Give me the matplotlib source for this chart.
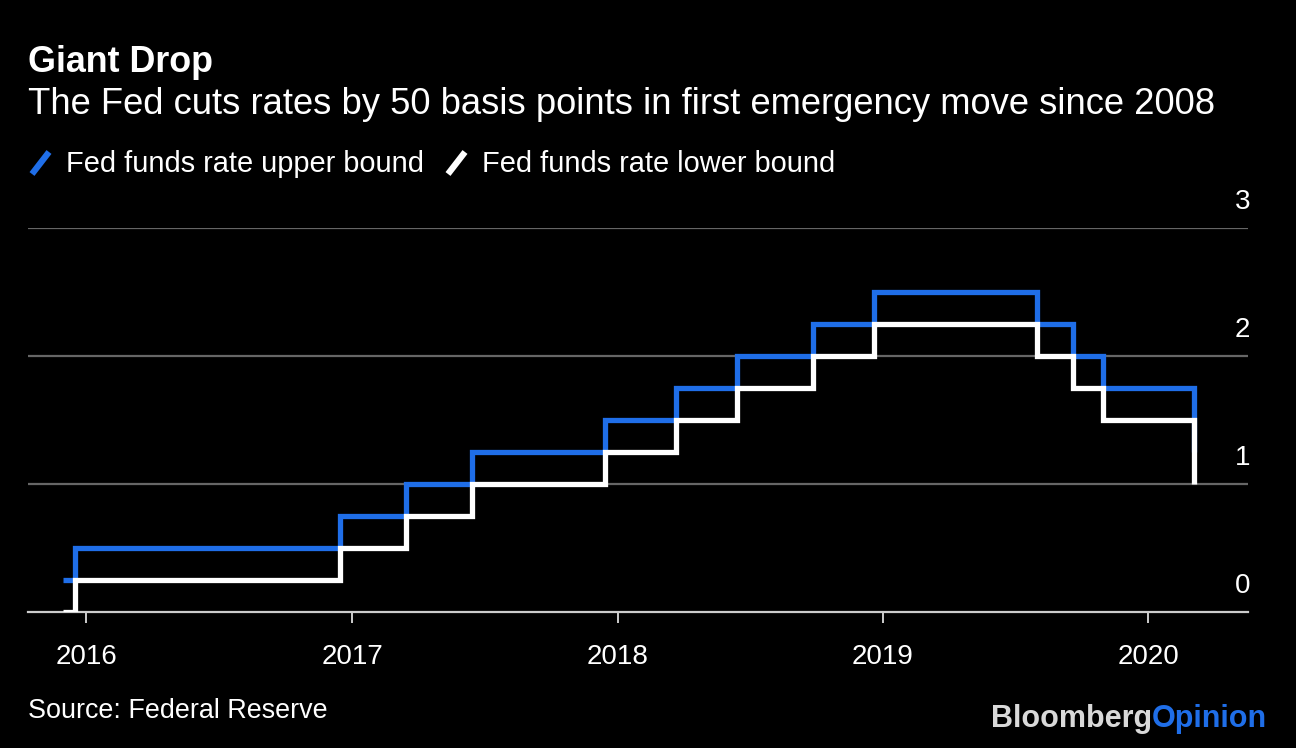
import matplotlib
matplotlib.use("Agg")
import matplotlib.pyplot as plt
from matplotlib.lines import Line2D
from matplotlib.transforms import ScaledTranslation
import pandas as pd

# ---- data ----
change_dates = ["2015-11-30", "2015-12-17", "2016-12-15", "2017-03-16", "2017-06-15",
                "2017-12-14", "2018-03-22", "2018-06-14", "2018-09-27", "2018-12-20",
                "2019-08-01", "2019-09-19", "2019-10-31", "2020-03-04"]
upper_bound = [0.25, 0.50, 0.75, 1.00, 1.25, 1.50, 1.75, 2.00, 2.25, 2.50,
               2.25, 2.00, 1.75, 1.25]
lower_bound = [0.00, 0.25, 0.50, 0.75, 1.00, 1.25, 1.50, 1.75, 2.00, 2.25,
               2.00, 1.75, 1.50, 1.00]
year_ticks = ["2016", "2017", "2018", "2019", "2020"]
y_ticks = [0, 1, 2, 3]
series_names = ["Fed funds rate upper bound", "Fed funds rate lower bound"]

title = "Giant Drop"
subtitle = "The Fed cuts rates by 50 basis points in first emergency move since 2008"
source = "Source: Federal Reserve"

BLUE = "#1f6ee8"
WHITE = "#ffffff"
BG = "#000000"

plt.rcParams['font.family'] = ['Liberation Sans', 'DejaVu Sans']

W, H = 1296, 748
fig = plt.figure(figsize=(W / 100, H / 100), dpi=100, facecolor=BG)
ax = fig.add_axes([28 / W, 1 - 612 / H, (1248 - 28) / W, (612 - 228) / H])
ax.set_facecolor(BG)

dates = pd.to_datetime(change_dates)
ax.step(dates, upper_bound, where="post", color=BLUE, lw=3.8,
        solid_joinstyle="miter", solid_capstyle="butt", zorder=3)
ax.step(dates, lower_bound, where="post", color=WHITE, lw=3.8,
        solid_joinstyle="miter", solid_capstyle="butt", zorder=4)

ax.set_xlim(pd.Timestamp("2015-10-13"), pd.Timestamp("2020-05-17"))
ax.set_ylim(0, 3)

for s in ["top", "right", "left"]:
    ax.spines[s].set_visible(False)
ax.spines["bottom"].set_color("#cccccc")
ax.spines["bottom"].set_linewidth(1.6)
ax.spines["bottom"].set_zorder(2)

for yv in y_ticks[1:]:
    ax.axhline(yv, color="#666666", lw=1.6, zorder=1)

ax.set_xticks(pd.to_datetime([y + "-01-01" for y in year_ticks]))
ax.set_xticklabels(year_ticks)
ax.tick_params(axis="x", colors="#cccccc", length=8, width=1.4, pad=15,
               labelsize=20, labelcolor="white")

ax.yaxis.tick_right()
ax.set_yticks(y_ticks)
ax.set_yticklabels([str(v) for v in y_ticks])
ax.tick_params(axis="y", length=0, pad=0, labelsize=20, labelcolor="white")
offset = ScaledTranslation(2 / 100, 26 / 100, fig.dpi_scale_trans)
for lab in ax.get_yticklabels():
    lab.set_horizontalalignment("right")
    lab.set_verticalalignment("center")
    lab.set_transform(lab.get_transform() + offset)

# titles
fig.text(28 / W, 1 - 63 / H, title, color="white", fontsize=25.8, fontweight="bold",
         va="center", ha="left")
fig.text(28 / W, 1 - 105 / H, subtitle, color="white", fontsize=26.2,
         va="center", ha="left")

# legend
def slash(x0, color):
    fig.add_artist(Line2D([x0 / W, (x0 + 17) / W], [1 - 174 / H, 1 - 152 / H],
                          color=color, lw=4.5, solid_capstyle="butt",
                          transform=fig.transFigure))

slash(32, BLUE)
fig.text(66 / W, 1 - 164 / H, series_names[0], color="white", fontsize=20.9,
         va="center", ha="left")
slash(448, WHITE)
fig.text(482 / W, 1 - 164 / H, series_names[1], color="white", fontsize=20.9,
         va="center", ha="left")

# source
fig.text(28 / W, 1 - 711 / H, source, color="white", fontsize=19.4,
         va="center", ha="left")

# logo
t1 = fig.text(1267 / W, 1 - 719 / H, "Opinion", color=BLUE, fontsize=22,
              fontweight="bold", va="center", ha="right")
fig.canvas.draw()
bb = t1.get_window_extent()
fig.text(bb.x0 / W, 1 - 719 / H, "Bloomberg", color="#d9d9d9", fontsize=22,
         fontweight="bold", va="center", ha="right")

fig.savefig("out.png", dpi=100, facecolor=BG)
